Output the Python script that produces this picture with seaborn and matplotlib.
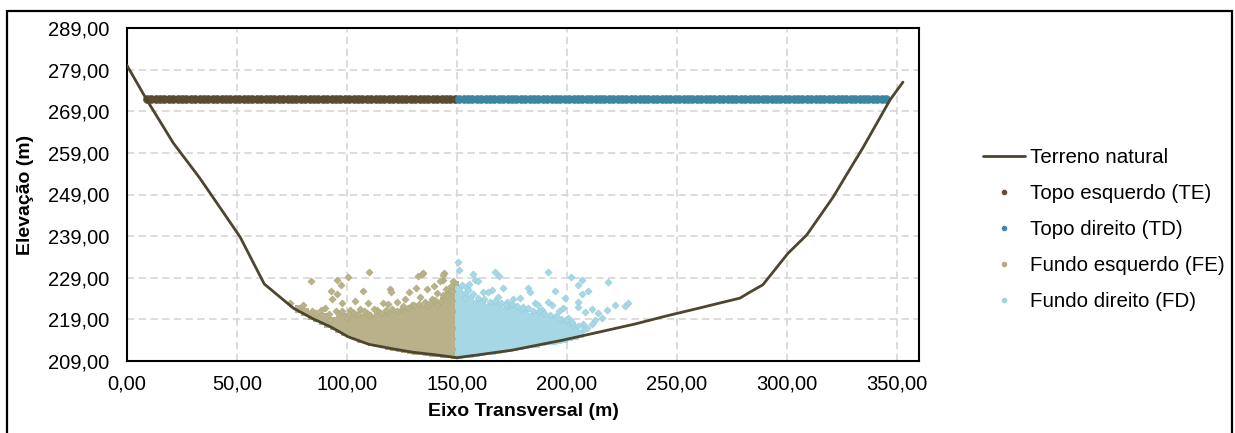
import matplotlib
matplotlib.use("Agg")
import matplotlib.pyplot as plt
import matplotlib.patches as mpatches
import seaborn as sns

# Terreno natural (seção transversal)
terreno_x = [0.0, 8.7, 21.0, 33.0, 43.0, 51.4, 62.4, 75.6, 84.7, 92.6, 100.6, 110.0,
             120.0, 130.0, 140.0, 150.0, 160.0, 175.0, 198.0, 215.0, 231.0, 245.0,
             260.0, 270.0, 278.6, 283.0, 289.0, 300.5, 309.0, 321.0, 327.0, 334.7,
             346.8, 352.7]
terreno_y = [280.0, 272.0, 261.4, 253.0, 245.3, 238.8, 227.5, 221.7, 219.1, 217.2, 214.8,
             213.0, 212.0, 211.1, 210.5, 209.8, 210.5, 211.6, 214.0, 216.0, 217.9, 219.8,
             221.7, 223.0, 224.1, 225.5, 227.3, 234.9, 239.3, 248.4, 253.7, 260.4,
             271.7, 276.0]

# Topo (crista) - cota constante
cota_topo = 272.0
te_x = [9, 11, 13, 15, 17, 19, 21, 23, 25, 27, 29, 31, 33, 35, 37, 39, 41, 43, 45, 47,
        49, 51, 53, 55, 57, 59, 61, 63, 65, 67, 69, 71, 73, 75, 77, 79, 81, 83, 85, 87,
        89, 91, 93, 95, 97, 99, 101, 103, 105, 107, 109, 111, 113, 115, 117, 119, 121,
        123, 125, 127, 129, 131, 133, 135, 137, 139, 141, 143, 145, 147, 149]
td_x = [151, 153, 155, 157, 159, 161, 163, 165, 167, 169, 171, 173, 175, 177, 179, 181,
        183, 185, 187, 189, 191, 193, 195, 197, 199, 201, 203, 205, 207, 209, 211, 213,
        215, 217, 219, 221, 223, 225, 227, 229, 231, 233, 235, 237, 239, 241, 243, 245,
        247, 249, 251, 253, 255, 257, 259, 261, 263, 265, 267, 269, 271, 273, 275, 277,
        279, 281, 283, 285, 287, 289, 291, 293, 295, 297, 299, 301, 303, 305, 307, 309,
        311, 313, 315, 317, 319, 321, 323, 325, 327, 329, 331, 333, 335, 337, 339, 341,
        343, 345]

# Fundo esquerdo (FE): núcleo denso
fe_nucleo = [
    (78.0, 221.6), (81.0, 220.8), (84.0, 219.9), (86.5, 219.3), (89.0, 218.5), (89.5, 219.6),
    (91.5, 217.9), (91.0, 219.2), (94.0, 217.3), (94.5, 218.6), (96.5, 216.6), (96.0, 217.9),
    (96.8, 219.1), (99.0, 215.9), (99.3, 217.2), (98.8, 218.5), (99.5, 219.5), (101.5, 215.4),
    (101.2, 216.7), (101.8, 218.0), (101.4, 219.2), (104.0, 214.9), (104.3, 216.2), (103.8, 217.5),
    (104.2, 218.8), (106.5, 214.4), (106.2, 215.7), (106.8, 217.0), (106.4, 218.3), (106.7, 219.4),
    (109.0, 214.0), (109.3, 215.3), (108.8, 216.6), (109.2, 217.9), (109.0, 219.1), (111.5, 213.6),
    (111.2, 214.9), (111.8, 216.2), (111.4, 217.5), (111.6, 218.8), (114.0, 213.3), (114.3, 214.6),
    (113.8, 215.9), (114.2, 217.2), (114.0, 218.5), (114.3, 219.5), (116.5, 213.0), (116.2, 214.3),
    (116.8, 215.6), (116.4, 216.9), (116.7, 218.2), (116.3, 219.4), (119.0, 212.6), (119.3, 213.9),
    (118.8, 215.2), (119.2, 216.5), (119.0, 217.8), (119.4, 219.1), (118.9, 220.0), (121.5, 212.3),
    (121.2, 213.6), (121.8, 214.9), (121.4, 216.2), (121.6, 217.5), (121.3, 218.8), (121.7, 220.0),
    (124.0, 212.1), (124.3, 213.4), (123.8, 214.7), (124.2, 216.0), (124.0, 217.3), (124.3, 218.6),
    (123.9, 219.8), (124.2, 220.6), (126.5, 211.9), (126.2, 213.2), (126.8, 214.5), (126.4, 215.8),
    (126.7, 217.1), (126.3, 218.4), (126.6, 219.7), (126.4, 220.7), (129.0, 211.7), (129.3, 213.0),
    (128.8, 214.3), (129.2, 215.6), (129.0, 216.9), (129.4, 218.2), (128.9, 219.5), (129.2, 220.8),
    (131.5, 211.5), (131.2, 212.8), (131.8, 214.1), (131.4, 215.4), (131.6, 216.7), (131.3, 218.0),
    (131.7, 219.3), (131.4, 220.6), (131.6, 221.4), (134.0, 211.3), (134.3, 212.6), (133.8, 213.9),
    (134.2, 215.2), (134.0, 216.5), (134.3, 217.8), (133.9, 219.1), (134.2, 220.4), (134.0, 221.5),
    (136.5, 211.2), (136.2, 212.5), (136.8, 213.8), (136.4, 215.1), (136.7, 216.4), (136.3, 217.7),
    (136.6, 219.0), (136.4, 220.3), (136.7, 221.6), (139.0, 211.0), (139.3, 212.3), (138.8, 213.6),
    (139.2, 214.9), (139.0, 216.2), (139.4, 217.5), (138.9, 218.8), (139.2, 220.1), (139.0, 221.4),
    (139.3, 222.3), (141.5, 210.9), (141.2, 212.2), (141.8, 213.5), (141.4, 214.8), (141.6, 216.1),
    (141.3, 217.4), (141.7, 218.7), (141.4, 220.0), (141.6, 221.3), (141.3, 222.5), (144.0, 210.7),
    (144.3, 212.0), (143.8, 213.3), (144.2, 214.6), (144.0, 215.9), (144.3, 217.2), (143.9, 218.5),
    (144.2, 219.8), (144.0, 221.1), (144.3, 222.4), (144.0, 223.3), (146.5, 210.6), (146.2, 211.9),
    (146.8, 213.2), (146.4, 214.5), (146.7, 215.8), (146.3, 217.1), (146.6, 218.4), (146.4, 219.7),
    (146.7, 221.0), (146.3, 222.3), (146.6, 223.6), (146.5, 224.8), (149.0, 210.4), (149.2, 211.7),
    (148.8, 213.0), (149.2, 214.3), (149.0, 215.6), (149.3, 216.9), (148.9, 218.2), (149.2, 219.5),
    (149.0, 220.8), (149.3, 222.1), (148.9, 223.4), (149.2, 224.7), (149.0, 226.0), (149.3, 227.3),
]
# Fundo esquerdo (FE): pontos isolados
fe_isolados = [
    (110.1, 230.3), (100.3, 229.2), (95.6, 228.5), (83.5, 228.1), (97.3, 227.3), (107.4, 225.9),
    (92.6, 225.9), (95.3, 225.1), (93.0, 223.8), (97.6, 223.0), (80.2, 222.5), (74.1, 222.9),
    (84.0, 221.1), (90.0, 221.8), (103.6, 223.4), (109.7, 222.9), (119.5, 226.3), (120.0, 225.6),
    (132.4, 229.5), (134.7, 230.2), (144.1, 230.1), (143.8, 228.5), (142.3, 228.1), (131.4, 226.5),
    (136.2, 226.3), (128.3, 225.6), (116.5, 223.0), (113.5, 221.3), (122.6, 223.2), (124.9, 221.6),
    (133.2, 224.4), (138.5, 224.0), (143.8, 224.8), (146.8, 224.0), (146.8, 226.1), (105.9, 221.6),
    (101.4, 221.3), (96.8, 220.5), (88.5, 220.1), (109.0, 220.5), (118.0, 220.8), (129.4, 222.5),
    (136.2, 222.1), (140.8, 222.5), (99.9, 219.3), (92.3, 218.8), (134.0, 229.9), (143.8, 229.6),
    (86.0, 220.6), (88.2, 221.3), (91.8, 220.4), (94.9, 221.0), (97.8, 220.9), (100.8, 220.4),
    (103.0, 220.6), (105.2, 220.2), (107.9, 220.9), (110.6, 220.1), (112.4, 221.5), (115.3, 220.6),
    (117.6, 221.2), (120.4, 221.4), (122.9, 221.0), (125.6, 222.1), (127.8, 221.7), (130.3, 222.4),
    (132.7, 222.6), (135.3, 223.1), (137.9, 222.9), (140.2, 223.6), (142.7, 223.4), (145.3, 224.9),
    (147.8, 225.8), (148.0, 228.2), (147.4, 227.0), (145.0, 226.3), (141.0, 225.3), (139.7, 226.9),
    (126.4, 223.8), (118.7, 222.7),
]

# Fundo direito (FD): núcleo denso
fd_nucleo = [
    (151.0, 210.4), (151.2, 211.7), (150.9, 213.0), (151.3, 214.3), (151.0, 215.6), (151.2, 216.9),
    (150.8, 218.2), (151.1, 219.5), (151.3, 220.8), (150.9, 222.1), (151.2, 223.4), (151.0, 224.7),
    (151.1, 226.0), (153.5, 210.6), (153.2, 211.9), (153.8, 213.2), (153.4, 214.5), (153.6, 215.8),
    (153.3, 217.1), (153.7, 218.4), (153.4, 219.7), (153.6, 221.0), (153.3, 222.3), (153.5, 223.6),
    (153.7, 224.9), (156.0, 210.8), (156.3, 212.1), (155.8, 213.4), (156.2, 214.7), (156.0, 216.0),
    (156.3, 217.3), (155.9, 218.6), (156.2, 219.9), (156.0, 221.2), (156.3, 222.5), (155.9, 223.8),
    (158.5, 211.0), (158.2, 212.3), (158.8, 213.6), (158.4, 214.9), (158.6, 216.2), (158.3, 217.5),
    (158.7, 218.8), (158.4, 220.1), (158.6, 221.4), (158.3, 222.7), (161.0, 211.1), (161.3, 212.4),
    (160.8, 213.7), (161.2, 215.0), (161.0, 216.3), (161.3, 217.6), (160.9, 218.9), (161.2, 220.2),
    (161.0, 221.5), (161.3, 222.8), (163.5, 211.3), (163.2, 212.6), (163.8, 213.9), (163.4, 215.2),
    (163.6, 216.5), (163.3, 217.8), (163.7, 219.1), (163.4, 220.4), (163.6, 221.7), (166.0, 211.5),
    (166.3, 212.8), (165.8, 214.1), (166.2, 215.4), (166.0, 216.7), (166.3, 218.0), (165.9, 219.3),
    (166.2, 220.6), (166.0, 221.9), (168.5, 211.7), (168.2, 213.0), (168.8, 214.3), (168.4, 215.6),
    (168.6, 216.9), (168.3, 218.2), (168.7, 219.5), (168.4, 220.8), (168.6, 222.0), (171.0, 211.9),
    (171.3, 213.2), (170.8, 214.5), (171.2, 215.8), (171.0, 217.1), (171.3, 218.4), (170.9, 219.7),
    (171.2, 221.0), (173.5, 212.1), (173.2, 213.4), (173.8, 214.7), (173.4, 216.0), (173.6, 217.3),
    (173.3, 218.6), (173.7, 219.9), (173.4, 221.2), (176.0, 212.3), (176.3, 213.6), (175.8, 214.9),
    (176.2, 216.2), (176.0, 217.5), (176.3, 218.8), (175.9, 220.1), (176.2, 221.3), (178.5, 212.5),
    (178.2, 213.8), (178.8, 215.1), (178.4, 216.4), (178.6, 217.7), (178.3, 219.0), (178.7, 220.3),
    (181.0, 212.8), (181.3, 214.1), (180.8, 215.4), (181.2, 216.7), (181.0, 218.0), (181.3, 219.3),
    (180.9, 220.6), (183.5, 213.0), (183.2, 214.3), (183.8, 215.6), (183.4, 216.9), (183.6, 218.2),
    (183.3, 219.5), (186.0, 213.2), (186.3, 214.5), (185.8, 215.8), (186.2, 217.1), (186.0, 218.4),
    (186.3, 219.7), (188.5, 213.5), (188.2, 214.8), (188.8, 216.1), (188.4, 217.4), (188.6, 218.7),
    (188.3, 219.6), (191.0, 213.7), (191.3, 215.0), (190.8, 216.3), (191.2, 217.6), (191.0, 218.9),
    (193.5, 213.9), (193.2, 215.2), (193.8, 216.5), (193.4, 217.8), (193.6, 218.8), (196.0, 214.1),
    (196.3, 215.4), (195.8, 216.7), (196.2, 218.0), (198.5, 214.4), (198.2, 215.7), (198.8, 217.0),
    (198.4, 218.1), (201.0, 214.7), (201.3, 216.0), (200.8, 217.3), (203.5, 215.0), (203.2, 216.3),
    (206.0, 215.4),
]
# Fundo direito (FD): pontos isolados
fd_isolados = [
    (150.6, 232.9), (150.9, 230.9), (157.4, 229.9), (167.3, 230.3), (169.2, 229.4), (158.2, 228.5),
    (159.7, 228.1), (191.2, 230.3), (201.8, 229.3), (206.7, 228.5), (205.1, 227.3), (218.5, 227.9),
    (209.7, 225.9), (206.7, 225.0), (194.5, 225.9), (182.1, 226.5), (183.2, 225.6), (171.0, 226.5),
    (165.8, 226.1), (168.8, 224.4), (172.6, 223.2), (178.6, 224.2), (185.5, 223.0), (191.5, 223.2),
    (193.0, 222.5), (199.1, 224.1), (198.3, 221.8), (204.9, 223.2), (204.9, 222.0), (211.2, 221.6),
    (208.2, 220.8), (214.2, 220.5), (218.0, 221.3), (221.8, 222.5), (226.4, 222.1), (227.6, 222.9),
    (215.8, 219.3), (212.7, 218.8), (207.4, 218.0), (202.9, 217.6), (188.5, 221.3), (179.4, 221.6),
    (164.2, 225.6), (154.4, 226.5), (153.6, 224.1), (211.2, 218.0), (200.6, 219.3), (173.3, 222.1),
    (152.2, 227.2), (154.8, 226.0), (157.2, 225.0), (159.5, 224.1), (162.3, 224.0), (164.8, 223.2),
    (167.3, 223.4), (169.9, 222.9), (172.4, 222.5), (174.8, 222.7), (177.3, 222.1), (179.8, 221.9),
    (182.3, 221.7), (184.7, 221.0), (187.2, 220.9), (189.7, 220.6), (192.3, 220.0), (194.8, 219.8),
    (197.3, 219.2), (199.7, 218.9), (202.3, 218.4), (204.8, 217.4), (207.5, 216.6), (209.0, 217.0),
    (155.5, 227.6), (162.0, 225.6), (175.5, 224.0), (186.7, 222.4), (196.4, 221.0),
]

cor_terreno = "#4d4530"
cor_te = "#574a30"
cor_td = "#3a86a2"
cor_fe = "#b8b189"
cor_fd = "#a6d7e4"

W, H = 1235, 433
fig = plt.figure(figsize=(W / 100, H / 100), dpi=100)
sns.set_style("white")
plt.rcParams["font.family"] = ["Liberation Sans", "DejaVu Sans"]
plt.rcParams["text.color"] = "black"
plt.rcParams["axes.labelcolor"] = "black"

ax = fig.add_axes([127 / W, 1 - 361 / H, (919 - 127) / W, (361 - 28) / H])


def xs(pts):
    return [p[0] for p in pts]


def ys(pts):
    return [p[1] for p in pts]


# núcleos densos: marcadores quadrados sem borda formam a mancha contínua
sns.scatterplot(x=xs(fe_nucleo), y=ys(fe_nucleo), ax=ax, marker="s", s=26, color=cor_fe,
                linewidth=0, zorder=3, legend=False)
sns.scatterplot(x=xs(fd_nucleo), y=ys(fd_nucleo), ax=ax, marker="s", s=26, color=cor_fd,
                linewidth=0, zorder=3, legend=False)
sns.scatterplot(x=xs(fe_isolados), y=ys(fe_isolados), ax=ax, marker="D", s=14, color=cor_fe,
                edgecolor="#a9a877", linewidth=0.3, zorder=3, legend=False)
sns.scatterplot(x=xs(fd_isolados), y=ys(fd_isolados), ax=ax, marker="D", s=14, color=cor_fd,
                edgecolor="#8ec9db", linewidth=0.3, zorder=3, legend=False)
sns.scatterplot(x=te_x, y=[cota_topo] * len(te_x), ax=ax, marker="o", s=34,
                color=cor_te, edgecolor="#6e4a36", linewidth=0.4, zorder=4, legend=False)
sns.scatterplot(x=td_x, y=[cota_topo] * len(td_x), ax=ax, marker="o", s=34,
                color=cor_td, edgecolor=cor_td, linewidth=0.4, zorder=4, legend=False)
sns.lineplot(x=terreno_x, y=terreno_y, ax=ax, sort=False, color=cor_terreno,
             linewidth=2.0, zorder=5, legend=False)

ax.set_xlim(0, 360)
ax.set_ylim(209, 289)
ax.set_xticks([0, 50, 100, 150, 200, 250, 300, 350])
ax.set_yticks([209, 219, 229, 239, 249, 259, 269, 279, 289])
ax.set_xticklabels([f"{v:.2f}".replace(".", ",") for v in ax.get_xticks()])
ax.set_yticklabels([f"{v:.2f}".replace(".", ",") for v in ax.get_yticks()])
ax.tick_params(axis="both", length=0, labelsize=14.5, colors="black")
ax.tick_params(axis="y", pad=13)
ax.tick_params(axis="x", pad=10)

ax.grid(True, color="#d9d9d9", linestyle=(0, (4, 2.5)), linewidth=1.3)
ax.set_axisbelow(True)
for sp in ax.spines.values():
    sp.set_visible(True)
    sp.set_color("black")
    sp.set_linewidth(1.5)

ax.set_xlabel("Eixo Transversal (m)", fontsize=14, fontweight="bold")
ax.set_ylabel("Elevação (m)", fontsize=14, fontweight="bold")
ax.xaxis.set_label_coords(0.5, -0.125)
ax.yaxis.set_label_coords(-0.117, 0.5)

# legenda
h_terr = plt.Line2D([], [], color=cor_terreno, linewidth=2.0)
h_te = plt.Line2D([], [], linestyle="none", marker="o", markersize=3, color="#6b4a35")
h_td = plt.Line2D([], [], linestyle="none", marker="o", markersize=3, color="#3b8bb0")
h_fe = plt.Line2D([], [], linestyle="none", marker="o", markersize=3, color="#b5ad80")
h_fd = plt.Line2D([], [], linestyle="none", marker="o", markersize=3, color="#9fd4e4")
fig.legend([h_terr, h_te, h_td, h_fe, h_fd],
           ["Terreno natural", "Topo esquerdo (TE)", "Topo direito (TD)",
            "Fundo esquerdo (FE)", "Fundo direito (FD)"],
           loc="upper left", bbox_to_anchor=(983 / W, 1 - 148 / H), frameon=False,
           fontsize=14.8, handlelength=2.05, handletextpad=0.25, labelspacing=0.83,
           borderpad=0, borderaxespad=0)

# moldura externa do gráfico
fig.patches.append(mpatches.Rectangle((7 / W, -0.02), (1232 - 7) / W, 1.02 - 11 / H,
                                      transform=fig.transFigure, fill=False,
                                      edgecolor="black", linewidth=1.6))

fig.savefig("out.png", dpi=100)
